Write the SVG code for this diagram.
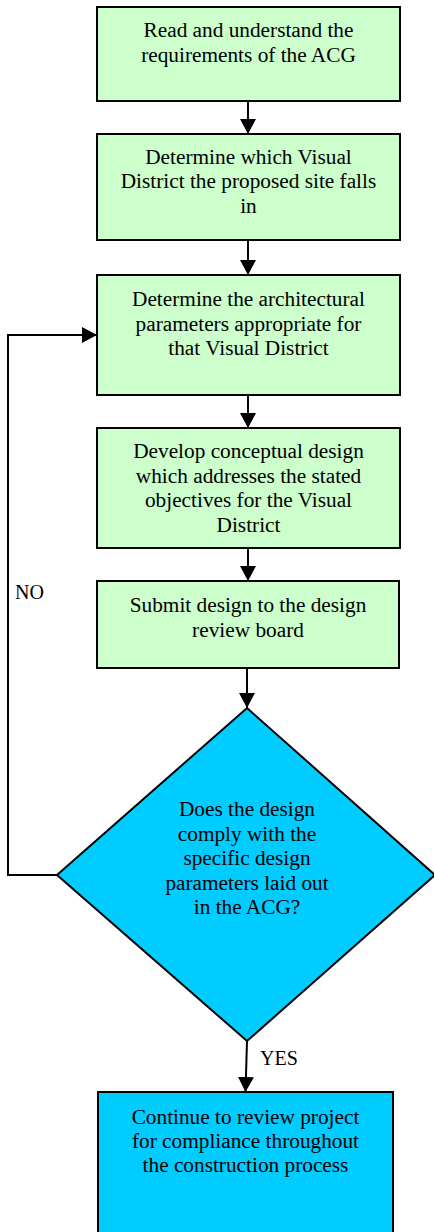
<svg xmlns="http://www.w3.org/2000/svg" width="434" height="1232" viewBox="0 0 434 1232">
<style>
.g{fill:#CCFFCC;stroke:#000;stroke-width:2}
.b{fill:#00CCFF;stroke:#000;stroke-width:2}
.t{font-family:"Liberation Serif","Times New Roman",serif;font-size:21.3px;fill:#000;text-anchor:middle}
.l{font-family:"Liberation Serif","Times New Roman",serif;font-size:20px;fill:#000}
.c{fill:none;stroke:#000;stroke-width:2}
</style>
<defs>
<marker id="ah" markerWidth="16" markerHeight="16" refX="15" refY="8" orient="auto" markerUnits="userSpaceOnUse" viewBox="0 0 16 16">
<path d="M0,0 L15,8 L0,16 Z" fill="#000"/>
</marker>
</defs>
<rect width="434" height="1232" fill="#fff"/>
<g id="connectors">
<line class="c" x1="248" y1="101" x2="248" y2="134" marker-end="url(#ah)"/>
<line class="c" x1="248" y1="240" x2="248" y2="275" marker-end="url(#ah)"/>
<line class="c" x1="248" y1="395" x2="248" y2="428" marker-end="url(#ah)"/>
<line class="c" x1="248" y1="548" x2="248" y2="581" marker-end="url(#ah)"/>
<line class="c" x1="247" y1="668" x2="247" y2="708" marker-end="url(#ah)"/>
<line class="c" x1="247" y1="1041" x2="245.5" y2="1092" marker-end="url(#ah)"/>
<polyline class="c" points="57,875 8,875 8,335 97,335" marker-end="url(#ah)"/>
<text class="l" x="15" y="599">NO</text>
<text class="l" x="260" y="1065">YES</text>
</g>
<g id="n1">
<rect class="g" x="97" y="7" width="303" height="94"/>
<text class="t" x="248.5" y="37">Read and understand the</text>
<text class="t" x="248.5" y="61.5">requirements of the ACG</text>
</g>
<g id="n2">
<rect class="g" x="97" y="134" width="303" height="106"/>
<text class="t" x="248.5" y="163.5">Determine which Visual</text>
<text class="t" x="248.5" y="188">District the proposed site falls</text>
<text class="t" x="248.5" y="212.5">in</text>
</g>
<g id="n3">
<rect class="g" x="97" y="275" width="303" height="120"/>
<text class="t" x="248.5" y="306">Determine the architectural</text>
<text class="t" x="248.5" y="330.5">parameters appropriate for</text>
<text class="t" x="248.5" y="355">that Visual District</text>
</g>
<g id="n4">
<rect class="g" x="97" y="428" width="303" height="120"/>
<text class="t" x="248.5" y="458">Develop conceptual design</text>
<text class="t" x="248.5" y="482.5">which addresses the stated</text>
<text class="t" x="248.5" y="507">objectives for the Visual</text>
<text class="t" x="248.5" y="531.5">District</text>
</g>
<g id="n5">
<rect class="g" x="97" y="581" width="302" height="87"/>
<text class="t" x="248" y="612">Submit design to the design</text>
<text class="t" x="248" y="636.5">review board</text>
</g>
<g id="n6">
<polygon class="b" points="247,708 435,875 247,1041 57,875"/>
<text class="t" x="247" y="816">Does the design</text>
<text class="t" x="247" y="840.5">comply with the</text>
<text class="t" x="247" y="865">specific design</text>
<text class="t" x="247" y="889.5">parameters laid out</text>
<text class="t" x="247" y="914">in the ACG?</text>
</g>
<g id="n7">
<rect class="b" x="98" y="1092" width="295" height="145"/>
<text class="t" x="245.5" y="1124">Continue to review project</text>
<text class="t" x="245.5" y="1148">for compliance throughout</text>
<text class="t" x="245.5" y="1172">the construction process</text>
</g>
</svg>
